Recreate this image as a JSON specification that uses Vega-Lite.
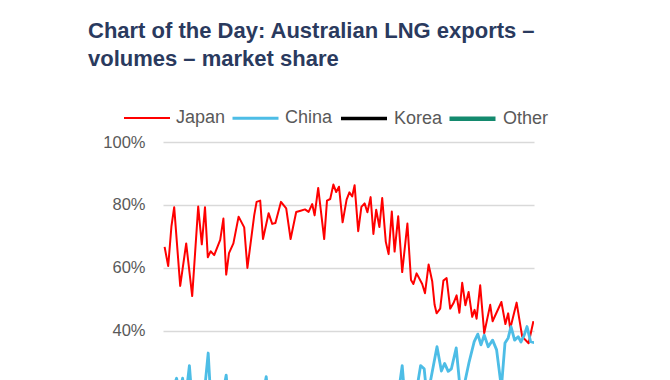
{
  "$schema": "https://vega.github.io/schema/vega-lite/v6.json",
  "width": 371,
  "height": 238,
  "autosize": {"type": "none"},
  "padding": {"left": 163, "top": 142, "right": 136, "bottom": 0},
  "background": "white",
  "title": {
    "text": ["Chart of the Day: Australian LNG exports –", "volumes – market share"],
    "font": "Liberation Sans",
    "fontSize": 22,
    "fontWeight": "bold",
    "color": "#2a3a5e",
    "anchor": "start",
    "frame": "group",
    "dx": -75,
    "lineHeight": 28,
    "offset": 22
  },
  "config": {
    "view": {"stroke": null},
    "font": "Liberation Sans"
  },
  "data": {
    "values": [
      {"s":"Japan","t":2013.04,"v":66.7},{"s":"Japan","t":2013.13,"v":60.6},{"s":"Japan","t":2013.21,"v":73.1},{"s":"Japan","t":2013.28,"v":79.3},{"s":"Japan","t":2013.43,"v":54.3},{"s":"Japan","t":2013.58,"v":67.8},{"s":"Japan","t":2013.73,"v":51.1},{"s":"Japan","t":2013.88,"v":79.5},{"s":"Japan","t":2013.97,"v":67.5},{"s":"Japan","t":2014.05,"v":79.3},{"s":"Japan","t":2014.12,"v":63.4},{"s":"Japan","t":2014.19,"v":65.3},{"s":"Japan","t":2014.28,"v":64.1},{"s":"Japan","t":2014.43,"v":68.9},{"s":"Japan","t":2014.51,"v":75.7},{"s":"Japan","t":2014.58,"v":57.9},{"s":"Japan","t":2014.65,"v":64.7},{"s":"Japan","t":2014.76,"v":67.8},{"s":"Japan","t":2014.89,"v":76.3},{"s":"Japan","t":2015.03,"v":72.9},{"s":"Japan","t":2015.11,"v":60.0},{"s":"Japan","t":2015.28,"v":76.7},{"s":"Japan","t":2015.34,"v":81.0},{"s":"Japan","t":2015.43,"v":81.4},{"s":"Japan","t":2015.50,"v":69.2},{"s":"Japan","t":2015.64,"v":77.4},{"s":"Japan","t":2015.73,"v":74.0},{"s":"Japan","t":2015.81,"v":74.3},{"s":"Japan","t":2015.95,"v":81.0},{"s":"Japan","t":2016.08,"v":78.9},{"s":"Japan","t":2016.19,"v":69.2},{"s":"Japan","t":2016.33,"v":77.8},{"s":"Japan","t":2016.44,"v":78.2},{"s":"Japan","t":2016.55,"v":78.6},{"s":"Japan","t":2016.64,"v":77.8},{"s":"Japan","t":2016.73,"v":80.3},{"s":"Japan","t":2016.79,"v":76.7},{"s":"Japan","t":2016.88,"v":85.4},{"s":"Japan","t":2017.03,"v":69.2},{"s":"Japan","t":2017.10,"v":81.4},{"s":"Japan","t":2017.18,"v":81.9},{"s":"Japan","t":2017.26,"v":86.5},{"s":"Japan","t":2017.33,"v":84.1},{"s":"Japan","t":2017.40,"v":85.8},{"s":"Japan","t":2017.49,"v":74.5},{"s":"Japan","t":2017.59,"v":81.7},{"s":"Japan","t":2017.66,"v":84.0},{"s":"Japan","t":2017.73,"v":82.7},{"s":"Japan","t":2017.79,"v":86.3},{"s":"Japan","t":2017.88,"v":71.7},{"s":"Japan","t":2017.96,"v":79.4},{"s":"Japan","t":2018.04,"v":80.5},{"s":"Japan","t":2018.11,"v":77.7},{"s":"Japan","t":2018.19,"v":82.5},{"s":"Japan","t":2018.26,"v":70.8},{"s":"Japan","t":2018.33,"v":78.5},{"s":"Japan","t":2018.41,"v":73.0},{"s":"Japan","t":2018.48,"v":82.2},{"s":"Japan","t":2018.57,"v":68.3},{"s":"Japan","t":2018.64,"v":64.4},{"s":"Japan","t":2018.72,"v":77.9},{"s":"Japan","t":2018.79,"v":65.2},{"s":"Japan","t":2018.88,"v":76.4},{"s":"Japan","t":2018.98,"v":58.7},{"s":"Japan","t":2019.11,"v":74.1},{"s":"Japan","t":2019.20,"v":56.2},{"s":"Japan","t":2019.26,"v":54.9},{"s":"Japan","t":2019.34,"v":58.3},{"s":"Japan","t":2019.48,"v":54.9},{"s":"Japan","t":2019.55,"v":52.0},{"s":"Japan","t":2019.64,"v":61.1},{"s":"Japan","t":2019.73,"v":55.8},{"s":"Japan","t":2019.79,"v":48.3},{"s":"Japan","t":2019.84,"v":45.6},{"s":"Japan","t":2019.93,"v":47.1},{"s":"Japan","t":2020.01,"v":56.0},{"s":"Japan","t":2020.09,"v":56.8},{"s":"Japan","t":2020.18,"v":47.1},{"s":"Japan","t":2020.26,"v":48.8},{"s":"Japan","t":2020.34,"v":51.3},{"s":"Japan","t":2020.41,"v":45.8},{"s":"Japan","t":2020.48,"v":55.3},{"s":"Japan","t":2020.56,"v":48.2},{"s":"Japan","t":2020.64,"v":52.4},{"s":"Japan","t":2020.73,"v":44.5},{"s":"Japan","t":2020.79,"v":46.7},{"s":"Japan","t":2020.84,"v":43.9},{"s":"Japan","t":2020.93,"v":54.5},{"s":"Japan","t":2021.03,"v":39.3},{"s":"Japan","t":2021.18,"v":48.3},{"s":"Japan","t":2021.24,"v":43.1},{"s":"Japan","t":2021.46,"v":49.2},{"s":"Japan","t":2021.56,"v":42.2},{"s":"Japan","t":2021.63,"v":45.6},{"s":"Japan","t":2021.68,"v":40.7},{"s":"Japan","t":2021.84,"v":49.0},{"s":"Japan","t":2021.98,"v":38.2},{"s":"Japan","t":2022.08,"v":36.9},{"s":"Japan","t":2022.14,"v":36.1},{"s":"Japan","t":2022.26,"v":43.1},

      {"s":"China","t":2013.03,"v":18},{"s":"China","t":2013.13,"v":14},{"s":"China","t":2013.23,"v":21},{"s":"China","t":2013.34,"v":25},{"s":"China","t":2013.41,"v":20},{"s":"China","t":2013.49,"v":25},{"s":"China","t":2013.56,"v":18},{"s":"China","t":2013.66,"v":29},{"s":"China","t":2013.74,"v":16},{"s":"China","t":2013.83,"v":19},{"s":"China","t":2013.93,"v":13},{"s":"China","t":2014.03,"v":20},{"s":"China","t":2014.13,"v":33},{"s":"China","t":2014.20,"v":17},{"s":"China","t":2014.30,"v":20},{"s":"China","t":2014.40,"v":14},{"s":"China","t":2014.48,"v":19},{"s":"China","t":2014.58,"v":26},{"s":"China","t":2014.65,"v":15},{"s":"China","t":2014.75,"v":19},{"s":"China","t":2014.85,"v":12},{"s":"China","t":2014.95,"v":17},{"s":"China","t":2015.05,"v":20},{"s":"China","t":2015.15,"v":14},{"s":"China","t":2015.25,"v":18},{"s":"China","t":2015.35,"v":22},{"s":"China","t":2015.45,"v":16},{"s":"China","t":2015.58,"v":25.5},{"s":"China","t":2015.65,"v":17},{"s":"China","t":2015.75,"v":21},{"s":"China","t":2015.85,"v":14},{"s":"China","t":2015.95,"v":19},{"s":"China","t":2016.05,"v":22},{"s":"China","t":2016.15,"v":15},{"s":"China","t":2016.25,"v":20},{"s":"China","t":2016.35,"v":16},{"s":"China","t":2016.45,"v":21},{"s":"China","t":2016.55,"v":18},{"s":"China","t":2016.65,"v":23},{"s":"China","t":2016.75,"v":15},{"s":"China","t":2016.85,"v":19},{"s":"China","t":2016.95,"v":22},{"s":"China","t":2017.05,"v":16},{"s":"China","t":2017.15,"v":20},{"s":"China","t":2017.25,"v":17},{"s":"China","t":2017.35,"v":21},{"s":"China","t":2017.45,"v":14},{"s":"China","t":2017.55,"v":18},{"s":"China","t":2017.65,"v":22},{"s":"China","t":2017.75,"v":15},{"s":"China","t":2017.85,"v":20},{"s":"China","t":2017.95,"v":17},{"s":"China","t":2018.05,"v":21},{"s":"China","t":2018.15,"v":16},{"s":"China","t":2018.25,"v":19},{"s":"China","t":2018.35,"v":23},{"s":"China","t":2018.45,"v":16},{"s":"China","t":2018.55,"v":20},{"s":"China","t":2018.65,"v":18},{"s":"China","t":2018.75,"v":22},{"s":"China","t":2018.85,"v":17},{"s":"China","t":2018.98,"v":29},{"s":"China","t":2019.05,"v":18},{"s":"China","t":2019.15,"v":21},{"s":"China","t":2019.25,"v":16},{"s":"China","t":2019.35,"v":22},{"s":"China","t":2019.44,"v":29},{"s":"China","t":2019.53,"v":28},{"s":"China","t":2019.60,"v":19},{"s":"China","t":2019.70,"v":25},{"s":"China","t":2019.85,"v":35},{"s":"China","t":2019.96,"v":27.3},{"s":"China","t":2020.04,"v":29.7},{"s":"China","t":2020.13,"v":27.2},{"s":"China","t":2020.21,"v":28},{"s":"China","t":2020.33,"v":34.6},{"s":"China","t":2020.41,"v":24},{"s":"China","t":2020.50,"v":21},{"s":"China","t":2020.65,"v":30},{"s":"China","t":2020.78,"v":36.6},{"s":"China","t":2020.87,"v":39},{"s":"China","t":2020.95,"v":35.6},{"s":"China","t":2021.03,"v":38.7},{"s":"China","t":2021.13,"v":35},{"s":"China","t":2021.24,"v":37.1},{"s":"China","t":2021.34,"v":34},{"s":"China","t":2021.46,"v":22},{"s":"China","t":2021.55,"v":36.2},{"s":"China","t":2021.63,"v":37.8},{"s":"China","t":2021.70,"v":41.4},{"s":"China","t":2021.79,"v":37.1},{"s":"China","t":2021.88,"v":38.2},{"s":"China","t":2021.95,"v":36.5},{"s":"China","t":2022.03,"v":38.7},{"s":"China","t":2022.10,"v":41.4},{"s":"China","t":2022.19,"v":36.6},{"s":"China","t":2022.28,"v":36.3},

      {"s":"Korea","t":2013.04,"v":8},{"s":"Korea","t":2013.5,"v":12},{"s":"Korea","t":2014.0,"v":7},{"s":"Korea","t":2014.5,"v":10},{"s":"Korea","t":2015.0,"v":6},{"s":"Korea","t":2015.5,"v":9},{"s":"Korea","t":2016.0,"v":5},{"s":"Korea","t":2016.5,"v":8},{"s":"Korea","t":2017.0,"v":6},{"s":"Korea","t":2017.5,"v":9},{"s":"Korea","t":2018.0,"v":7},{"s":"Korea","t":2018.5,"v":10},{"s":"Korea","t":2019.0,"v":12},{"s":"Korea","t":2019.5,"v":9},{"s":"Korea","t":2020.0,"v":11},{"s":"Korea","t":2020.5,"v":13},{"s":"Korea","t":2021.0,"v":10},{"s":"Korea","t":2021.5,"v":12},{"s":"Korea","t":2022.0,"v":11},{"s":"Korea","t":2022.26,"v":13},

      {"s":"Other","t":2013.04,"v":12},{"s":"Other","t":2013.5,"v":9},{"s":"Other","t":2014.0,"v":14},{"s":"Other","t":2014.5,"v":10},{"s":"Other","t":2015.0,"v":8},{"s":"Other","t":2015.5,"v":6},{"s":"Other","t":2016.0,"v":7},{"s":"Other","t":2016.5,"v":5},{"s":"Other","t":2017.0,"v":6},{"s":"Other","t":2017.5,"v":4},{"s":"Other","t":2018.0,"v":7},{"s":"Other","t":2018.5,"v":9},{"s":"Other","t":2019.0,"v":11},{"s":"Other","t":2019.5,"v":13},{"s":"Other","t":2020.0,"v":14},{"s":"Other","t":2020.5,"v":15},{"s":"Other","t":2021.0,"v":17},{"s":"Other","t":2021.5,"v":16},{"s":"Other","t":2022.0,"v":18},{"s":"Other","t":2022.26,"v":16}
    ]
  },
  "mark": {"type": "line", "clip": true, "strokeJoin": "round", "interpolate": "linear"},
  "encoding": {
    "x": {
      "field": "t",
      "type": "quantitative",
      "scale": {"domain": [2013, 2022.275], "nice": false, "zero": false},
      "axis": null
    },
    "y": {
      "field": "v",
      "type": "quantitative",
      "scale": {"domain": [24.44, 100], "nice": false, "zero": false},
      "axis": {
        "values": [40, 60, 80, 100],
        "labelExpr": "datum.value + '%'",
        "labelFontSize": 16.5,
        "labelColor": "#595959",
        "labelFont": "Liberation Sans",
        "labelPadding": 18,
        "ticks": false,
        "domain": false,
        "grid": true,
        "gridColor": "#d9d9d9",
        "gridWidth": 1.5,
        "title": null
      }
    },
    "color": {
      "field": "s",
      "type": "nominal",
      "scale": {"domain": ["Japan", "China", "Korea", "Other"], "range": ["#ff0000", "#4dbde6", "#000000", "#148a6e"]},
      "legend": {
        "title": null,
        "orient": "none",
        "legendX": -40,
        "legendY": -49,
        "direction": "horizontal",
        "gridAlign": "all",
        "symbolType": "stroke",
        "symbolSize": 2116,
        "labelFontSize": 18,
        "labelColor": "#595959",
        "labelFont": "Liberation Sans",
        "labelOffset": 5,
        "columnPadding": -3
      }
    },
    "strokeWidth": {
      "field": "s",
      "type": "nominal",
      "scale": {"domain": ["Japan", "China", "Korea", "Other"], "range": [2, 4.5, 4.5, 4.5]},
      "legend": {
        "title": null,
        "orient": "none",
        "legendX": -40,
        "legendY": -49,
        "direction": "horizontal",
        "gridAlign": "all",
        "symbolType": "stroke",
        "symbolSize": 2116,
        "labelFontSize": 18,
        "labelColor": "#595959",
        "labelFont": "Liberation Sans",
        "labelOffset": 5,
        "columnPadding": -3
      }
    }
  }
}
